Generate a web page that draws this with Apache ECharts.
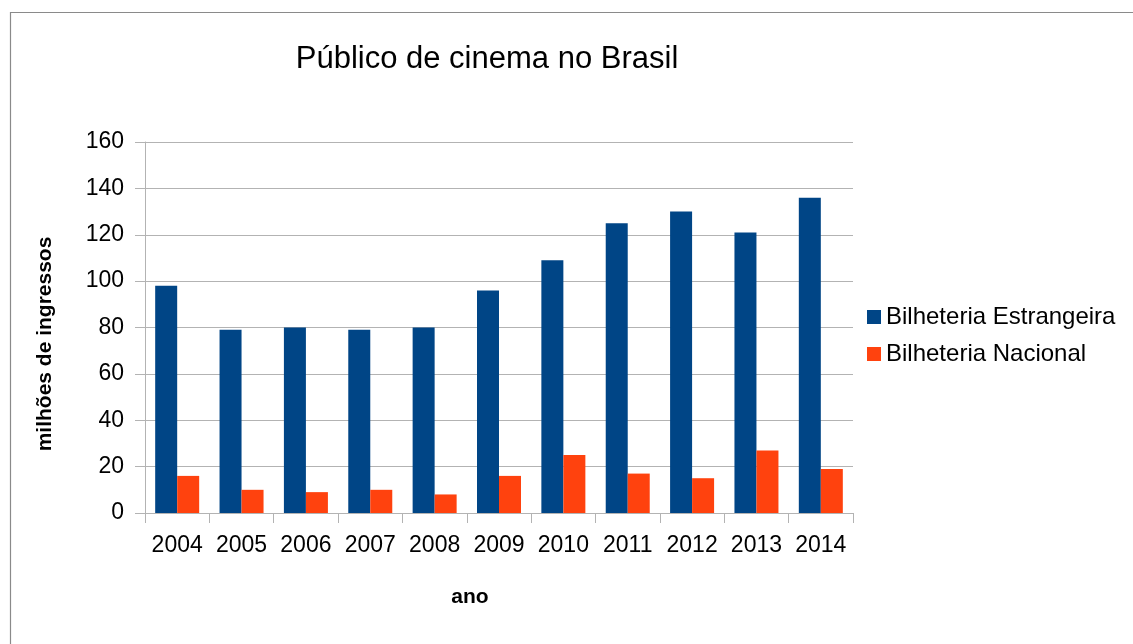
<!DOCTYPE html>
<html>
<head>
<meta charset="utf-8">
<script src="https://cdn.jsdelivr.net/npm/echarts@6/dist/echarts.min.js"></script>
<style>
  html, body { margin: 0; padding: 0; background: #fff; }
  #chart { width: 1133px; height: 644px; }
</style>
</head>
<body>
<div id="chart"></div>
<script>
const anos = ["2004", "2005", "2006", "2007", "2008", "2009", "2010", "2011", "2012", "2013", "2014"];
const estrangeira = [98, 79, 80, 79, 80, 96, 109, 125, 130, 121, 136];
const nacional = [16, 10, 9, 10, 8, 16, 25, 17, 15, 27, 19];

const font = "Liberation Sans, Arial, sans-serif";
const chart = echarts.init(document.getElementById("chart"), null, { renderer: "canvas" });

chart.setOption({
  animation: false,
  backgroundColor: "#fff",
  textStyle: { fontFamily: font },
  title: {
    text: "Público de cinema no Brasil",
    left: 482,
    top: 39,
    textAlign: "center",
    textStyle: { fontFamily: font, fontSize: 31, fontWeight: "normal", color: "#000" }
  },
  graphic: [
    {
      type: "rect",
      shape: { x: 10.5, y: 12.5, width: 1200, height: 700 },
      style: { fill: "none", stroke: "#8a8a8a", lineWidth: 1.2 },
      silent: true
    },
    // axis titles placed like the original (not centred on the plot)
    {
      type: "text",
      x: 45,
      y: 344,
      rotation: Math.PI / 2,
      style: {
        text: "milhões de ingressos",
        font: "bold 21px Liberation Sans, Arial, sans-serif",
        fill: "#000",
        align: "center",
        verticalAlign: "middle"
      },
      silent: true
    },
    {
      type: "text",
      x: 470,
      y: 597,
      style: {
        text: "ano",
        font: "bold 21px Liberation Sans, Arial, sans-serif",
        fill: "#000",
        align: "center",
        verticalAlign: "middle"
      },
      silent: true
    }
  ],
  legend: {
    orient: "vertical",
    left: 862,
    top: 300,
    itemWidth: 14,
    itemHeight: 14,
    itemGap: 13,
    icon: "rect",
    textStyle: { fontFamily: font, fontSize: 24, color: "#000" },
    data: ["Bilheteria Estrangeira", "Bilheteria Nacional"]
  },
  grid: { left: 145, right: 280, top: 142, bottom: 131 },
  xAxis: {
    type: "category",
    data: anos,
    axisLine: { lineStyle: { color: "#b3b3b3" } },
    axisTick: { show: true, length: 10, interval: 0, lineStyle: { color: "#b3b3b3" } },
    axisLabel: { fontFamily: font, fontSize: 23, color: "#000", margin: 21, interval: 0 }
  },
  yAxis: {
    type: "value",
    min: 0,
    max: 160,
    interval: 20,
    axisLine: { show: true, lineStyle: { color: "#b3b3b3" } },
    axisTick: { show: true, length: 10, lineStyle: { color: "#b3b3b3" } },
    axisLabel: { fontFamily: font, fontSize: 23, color: "#000", margin: 21 },
    splitLine: { lineStyle: { color: "#b3b3b3" } }
  },
  series: [
    {
      name: "Bilheteria Estrangeira",
      type: "bar",
      data: estrangeira,
      barWidth: 22,
      barGap: "0%",
      itemStyle: { color: "#004586" }
    },
    {
      name: "Bilheteria Nacional",
      type: "bar",
      data: nacional,
      barWidth: 22,
      barGap: "0%",
      itemStyle: { color: "#ff420e" }
    }
  ]
});
</script>
</body>
</html>
